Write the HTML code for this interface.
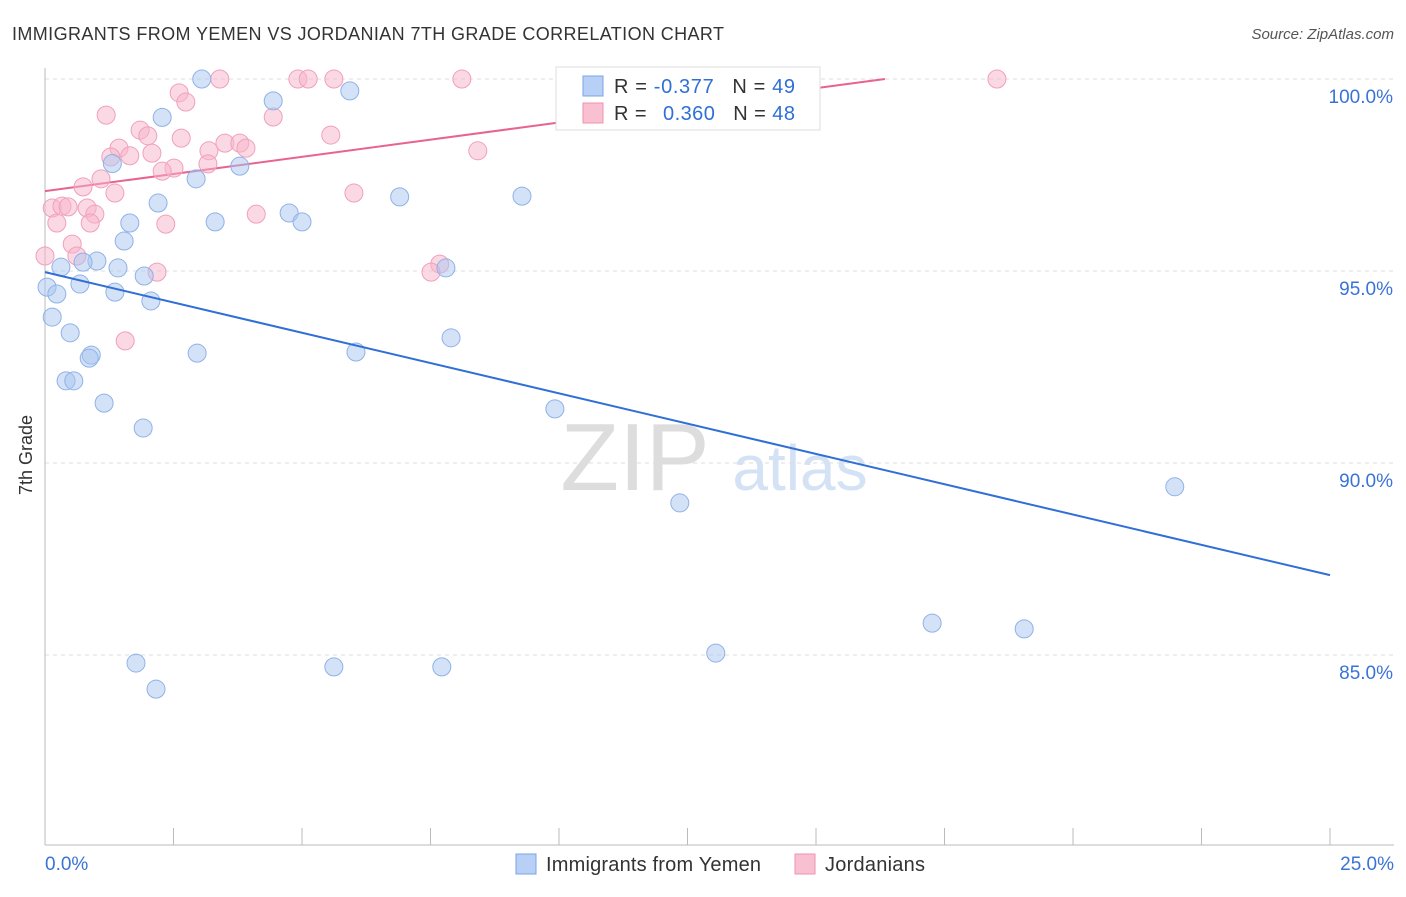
<!DOCTYPE html>
<html><head><meta charset="utf-8"><style>
body{margin:0;background:#fff;font-family:"Liberation Sans",sans-serif}
svg text{font-family:"Liberation Sans",sans-serif}
</style></head><body>
<svg id="c" width="1406" height="892">
<text x="12" y="40" font-size="18" fill="#333" textLength="712">IMMIGRANTS FROM YEMEN VS JORDANIAN 7TH GRADE CORRELATION CHART</text>
<text x="1394" y="39" font-size="15" fill="#555" font-style="italic" text-anchor="end">Source: ZipAtlas.com</text>
<text x="32" y="455" font-size="18" fill="#333" transform="rotate(-90 32 455)" text-anchor="middle">7th Grade</text>
<text x="635" y="490" font-size="96" fill="#ddd" font-family="Liberation Serif" text-anchor="middle">ZIP</text>
<text x="800" y="490" font-size="64" fill="#d4e2f5" text-anchor="middle">atlas</text>
<g id="grid"></g><g id="marks"></g>
<g>
<rect x="556" y="67" width="264" height="63" fill="#fff" stroke="#ddd"/>
<rect x="583" y="76" width="20" height="20" fill="#b8d0f5" stroke="#7aa5e6"/>
<rect x="583" y="103" width="20" height="20" fill="#f9c0d2" stroke="#ef92b0"/>
<text x="614" y="93" font-size="20" fill="#333" textLength="181">R = <tspan fill="#2f6fd6">-0.377</tspan><tspan dx="18">N = </tspan><tspan fill="#2f6fd6">49</tspan></text>
<text x="614" y="120" font-size="20" fill="#333" textLength="181">R = <tspan dx="10" fill="#2f6fd6">0.360</tspan><tspan dx="18">N = </tspan><tspan fill="#2f6fd6">48</tspan></text>
</g>
<g>
<rect x="516" y="854" width="20" height="20" fill="#b8d0f5" stroke="#7aa5e6"/>
<text x="546" y="871" font-size="20" fill="#333" textLength="215">Immigrants from Yemen</text>
<rect x="795" y="854" width="20" height="20" fill="#f9c0d2" stroke="#ef92b0"/>
<text x="825" y="871" font-size="20" fill="#333" textLength="100">Jordanians</text>
</g>
</svg>
<script>
const yTicks=[100,95,90,85];
const xTickVals=[0,2.5,5,7.5,10,12.5,15,17.5,20,22.5,25];
const blueX=[3.05,4.44,5.93,2.28,1.31,2.94,3.79,6.9,9.28,2.2,4.75,5.0,3.31,1.65,1.54,1.01,0.74,1.42,0.31,1.93,7.8,0.68,0.04,0.23,1.36,2.06,0.14,0.49,7.9,0.9,0.86,2.96,6.05,0.41,0.56,1.15,9.92,1.91,12.35,21.98,17.26,19.05,13.05,1.77,5.62,7.72,2.16];
const blueY=[100,99.43,99.69,99.0,97.8,97.4,97.73,96.93,96.95,96.77,96.51,96.28,96.28,96.25,95.78,95.26,95.23,95.08,95.1,94.87,95.08,94.66,94.58,94.4,94.45,94.22,93.8,93.39,93.26,92.81,92.73,92.86,92.89,92.14,92.14,91.56,91.41,90.91,88.96,89.38,85.83,85.68,85.05,84.79,84.69,84.69,84.11];
const pinkX=[3.4,4.92,5.12,5.62,8.11,18.52,2.61,2.74,1.19,4.44,1.85,2.0,2.65,5.56,3.5,3.79,3.19,2.08,1.44,1.28,1.65,2.51,2.28,3.17,8.42,1.09,0.74,1.36,6.01,0.14,0.33,0.45,0.82,0.97,4.11,2.35,0.88,0.23,0.53,0.62,0.0,2.18,7.68,7.51,1.56,3.91];
const pinkY=[100,100,100,100,100,100,99.64,99.4,99.06,99.01,98.67,98.52,98.46,98.54,98.33,98.33,98.13,98.07,98.2,97.97,98.0,97.68,97.6,97.79,98.13,97.4,97.19,97.03,97.03,96.64,96.69,96.67,96.64,96.48,96.48,96.22,96.25,96.25,95.7,95.39,95.39,94.97,95.18,94.97,93.18,98.2];
const blueLine=[94.97,87.08];
const pinkLine=[97.08,0.1787];
const X=v=>45+v/25*1285, Y=v=>79+(100-v)*38.4;
const NS='http://www.w3.org/2000/svg';
const g=document.getElementById('grid'), m=document.getElementById('marks');
function mk(p,tag,a){const e=document.createElementNS(NS,tag);for(const k in a)e.setAttribute(k,a[k]);p.appendChild(e);return e;}
yTicks.forEach(t=>{
 const l=mk(g,'line',{x1:45,x2:1394,y1:Y(t),y2:Y(t),stroke:'#ddd','stroke-dasharray':'4 4'});
 
 
 const tx=mk(g,'text',{x:1393,y:Y(t)+24,'font-size':19,fill:'#3a73d6','text-anchor':'end'});tx.textContent=t.toFixed(1)+'%';
 
 
});
mk(g,'line',{x1:45,x2:45,y1:68,y2:845,stroke:'#bbb'});
mk(g,'line',{x1:45,x2:1394,y1:845,y2:845,stroke:'#bbb'});
xTickVals.forEach(t=>{const l=mk(g,'line',{x1:X(t),x2:X(t),y1:828,y2:845,stroke:'#bbb'});
 
 });
let t0=mk(g,'text',{x:45,y:870,'font-size':19,fill:'#3a73d6'});t0.textContent='0.0%';


let t1=mk(g,'text',{x:1394,y:870,'font-size':19,fill:'#3a73d6','text-anchor':'end'});t1.textContent='25.0%';


const xe=(100-pinkLine[0])/pinkLine[1];
const pl=mk(g,'line',{x1:X(0),y1:Y(pinkLine[0]),x2:X(xe),y2:Y(100),stroke:'#e8638f','stroke-width':2});


pinkX.forEach((x,i)=>{const c=mk(m,'circle',{cx:X(x),cy:Y(pinkY[i]),r:9,fill:'rgba(248,180,202,0.5)',stroke:'#f1a0ba','stroke-width':1});
 
 });
blueX.forEach((x,i)=>{const c=mk(m,'circle',{cx:X(x),cy:Y(blueY[i]),r:9,fill:'rgba(170,198,240,0.5)',stroke:'#8fb2e8','stroke-width':1});
 
 });
const bl=mk(m,'line',{x1:X(0),y1:Y(blueLine[0]),x2:X(25),y2:Y(blueLine[1]),stroke:'#2f6fd6','stroke-width':2});


</script>
</body></html>
